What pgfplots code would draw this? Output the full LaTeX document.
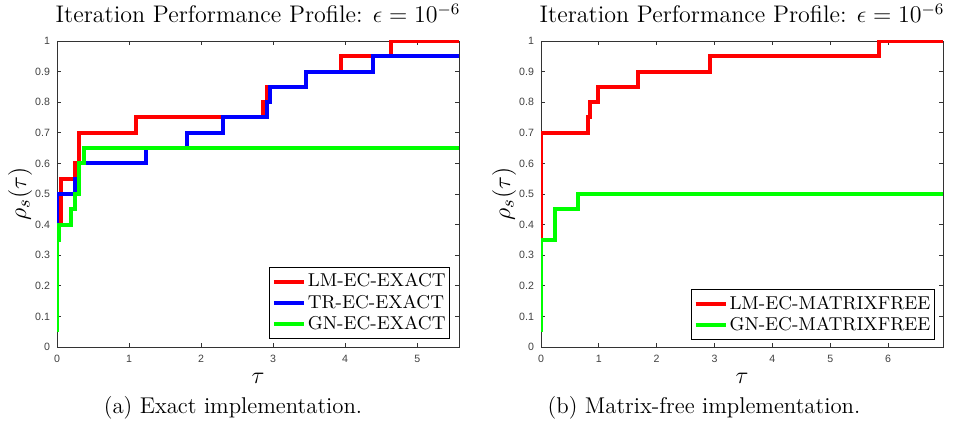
\documentclass[border=0pt]{standalone}
\usepackage{fontspec}
\usepackage{pgfplots}
\pgfplotsset{compat=1.18}
\newfontfamily\tickfont{Liberation Sans}
\definecolor{mred}{RGB}{255,0,0}
\definecolor{mblue}{RGB}{0,0,255}
\definecolor{mgreen}{RGB}{0,255,0}

\pgfplotsset{
  prof/.style={
    scale only axis, width=201pt, height=153pt,
    xmin=0, ymin=0, ymax=1,
    ytick={0,0.1,0.2,0.3,0.4,0.5,0.6,0.7,0.8,0.9,1},
    yticklabels={0,0.1,0.2,0.3,0.4,0.5,0.6,0.7,0.8,0.9,1},
    tick align=inside,
    major tick length=2pt,
    axis line style={black!80, line width=0.4pt},
    tick style={black!80, line width=0.4pt},
    ticklabel style={font=\tickfont\fontsize{5.3}{6}\selectfont, text=black!75},
    xticklabel style={yshift=-0.5pt},
    /pgf/number format/assume math mode=true,
    ylabel style={at={(axis description cs:-0.092,0.5)}, anchor=center,
      font=\fontsize{12.5}{14}\selectfont},
    ylabel={$\rho_s(\tau)$},
    xlabel style={at={(axis description cs:0.5,0)}, anchor=center, yshift=-15.5pt,
      font=\fontsize{12.5}{14}\selectfont},
    xlabel={$\tau$},
    legend cell align=left,
    legend style={draw=black, line width=0.5pt, fill=white,
      font=\fontsize{9.3}{10}\selectfont, inner xsep=1pt, inner ysep=1pt,
      row sep=-1.5pt, nodes={inner xsep=1pt}},
    legend image code/.code={\draw[##1, line width=2pt] (0pt,0pt) -- (15pt,0pt);},
    every axis plot/.append style={const plot, line width=2pt, mark=none},
  }
}

\begin{document}
\begin{tikzpicture}
\path[use as bounding box] (0,0) rectangle (476.5pt,211.5pt);

\begin{axis}[prof, at={(28.5pt,38pt)}, anchor=south west,
  xmax=5.58, xtick={0,1,2,3,4,5},
  legend style={at={(0.978,0.026)}, anchor=south east}]
\addplot[mred] coordinates {
  (0,0.40) (0.05,0.55) (0.245,0.60) (0.31,0.70) (1.10,0.75) (2.86,0.80)
  (2.91,0.85) (3.45,0.90) (3.94,0.95) (4.64,1.00) (5.58,1.00)
};
\addplot[mblue] coordinates {
  (0,0.35) (0,0.50) (0.25,0.55) (0.31,0.60) (1.23,0.65) (1.81,0.70)
  (2.31,0.75) (2.92,0.80) (2.95,0.85) (3.45,0.90) (4.39,0.95) (5.58,0.95)
};
\addplot[mgreen] coordinates {
  (0,0.05) (0,0.35) (0.03,0.40) (0.19,0.45) (0.25,0.50) (0.31,0.60)
  (0.37,0.65) (5.58,0.65)
};
\legend{LM-EC-EXACT, TR-EC-EXACT, GN-EC-EXACT}
\end{axis}
\node[anchor=base, font=\fontsize{12}{14}\selectfont] at (129pt,200pt)
  {Iteration Performance Profile: $\epsilon = 10^{-6}$};
\node[font=\fontsize{11.4}{13}\selectfont] at (116.5pt,7.5pt) {(a) Exact implementation.};

\begin{axis}[prof, at={(270.5pt,38pt)}, anchor=south west,
  xmax=6.95, xtick={0,1,2,3,4,5,6},
  legend style={at={(0.98,0.023)}, anchor=south east}]
\addplot[mred] coordinates {
  (0,0.35) (0,0.70) (0.82,0.75) (0.85,0.80) (0.99,0.85) (1.68,0.90)
  (2.93,0.95) (5.84,1.00) (6.95,1.00)
};
\addplot[mgreen] coordinates {
  (0,0.05) (0,0.35) (0.25,0.45) (0.64,0.50) (6.95,0.50)
};
\legend{LM-EC-MATRIXFREE, GN-EC-MATRIXFREE}
\end{axis}
\node[anchor=base, font=\fontsize{12}{14}\selectfont] at (371pt,200pt)
  {Iteration Performance Profile: $\epsilon = 10^{-6}$};
\node[font=\fontsize{11.4}{13}\selectfont] at (352pt,7.5pt) {(b) Matrix-free implementation.};
\end{tikzpicture}
\end{document}
